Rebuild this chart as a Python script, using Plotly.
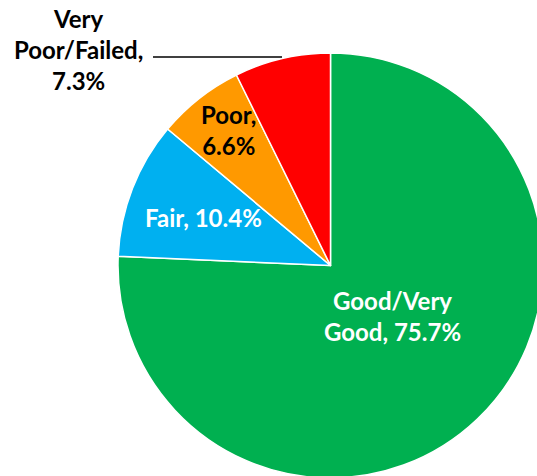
import plotly.graph_objects as go

# slice data, clockwise from 12 o'clock
labels = ["Good/Very Good", "Fair", "Poor", "Very Poor/Failed"]
values = [75.7, 10.4, 6.6, 7.3]
colors = ["#00B050", "#00B0F0", "#FF9900", "#FF0000"]

# label text as shown on the chart
label_text = ["Good/Very<br>Good, 75.7%", "Fair, 10.4%", "Poor,<br>6.6%", "Very<br>Poor/Failed,<br>7.3%"]
label_color = ["white", "white", "black", "black"]
# label centres in window pixels (x, y from top)
label_pos = [(392, 316), (203, 218), (228, 130), (78, 50)]

# figure is a bit larger than the window so the pie runs off the right/bottom
W, H = 560, 500


def px_x(x):
    return x / W


def px_y(y):
    return 1 - y / H


fig = go.Figure()
fig.add_trace(go.Pie(
    labels=labels,
    values=values,
    sort=False,
    direction="clockwise",
    rotation=0,
    marker=dict(colors=colors, line=dict(color="white", width=1.5)),
    textinfo="none",
    hoverinfo="label+percent",
    domain=dict(x=[px_x(118), px_x(543)], y=[px_y(478), px_y(53)]),
    showlegend=False,
))

for txt, col, (x, y) in zip(label_text, label_color, label_pos):
    fig.add_annotation(
        x=px_x(x), y=px_y(y), xref="paper", yref="paper",
        xanchor="center", yanchor="middle",
        text="<b>" + txt + "</b>", showarrow=False,
        font=dict(family="Lato", size=24, color=col),
        align="center",
    )

# leader line for the outside label
fig.add_shape(type="line", xref="paper", yref="paper",
              x0=px_x(153), x1=px_x(282), y0=px_y(57), y1=px_y(57),
              line=dict(color="black", width=1.5))

fig.update_layout(
    width=W, height=H,
    margin=dict(l=0, r=0, t=0, b=0),
    paper_bgcolor="white",
    plot_bgcolor="white",
)

fig.write_html(
    "out.html",
    config={"displayModeBar": False},
    post_script="document.body.style.margin='0';document.body.style.overflow='hidden';",
)
